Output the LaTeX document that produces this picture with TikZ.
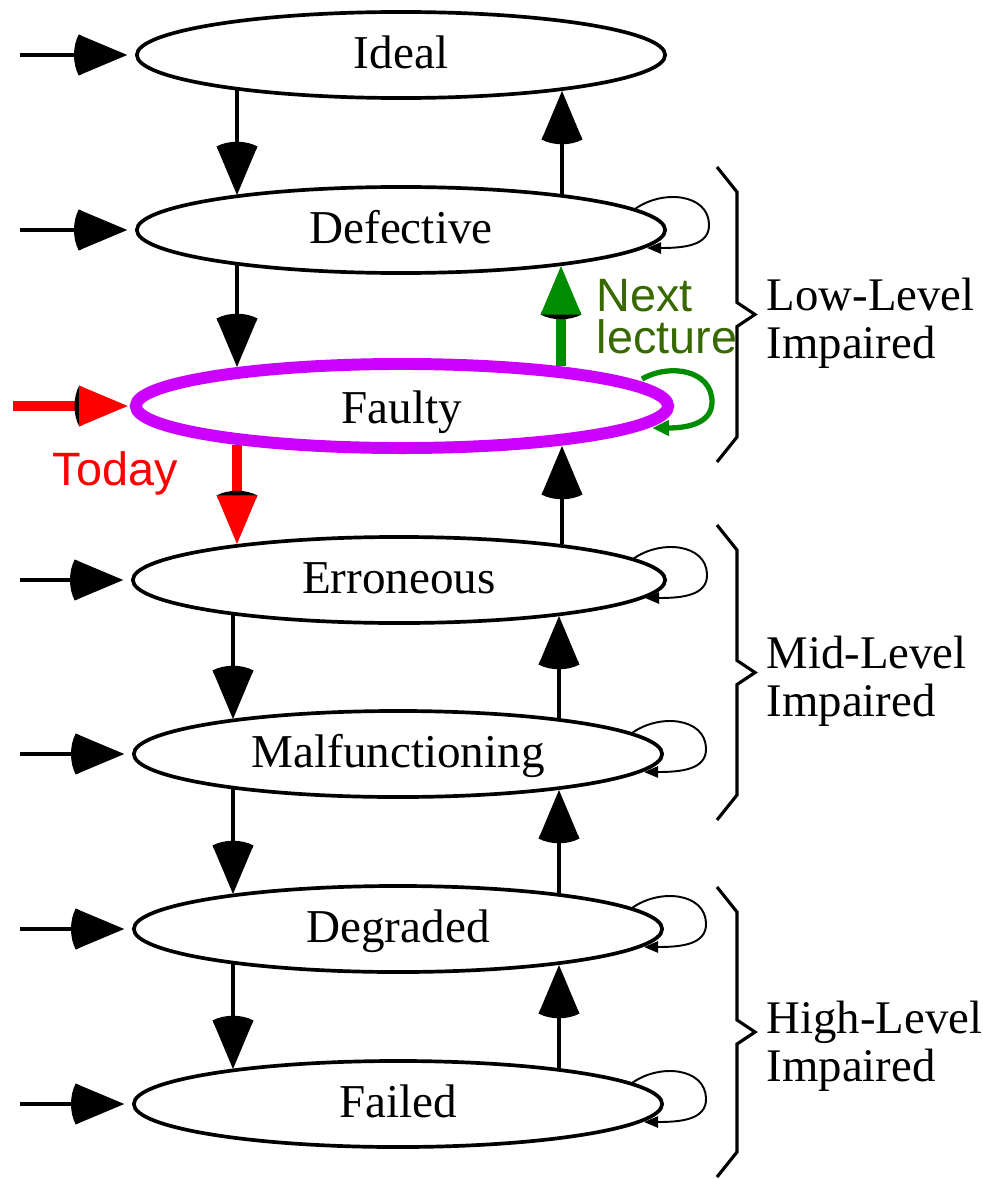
\documentclass[tikz,border=0pt]{standalone}
\usepackage{fontspec}
\setmainfont{Liberation Serif}
\newfontfamily\notesans{Liberation Sans}
\usetikzlibrary{arrows.meta,calc,shapes.geometric}

% Broad arrow head: a filled triangle over a rounded black cap on its back
\pgfdeclarearrow{
  name = Cup,
  defaults = {length = 13.8pt, width = 11.6pt},
  setup code = {
    \pgfarrowssettipend{0pt}
    \pgfarrowssetlineend{-.6\pgfarrowlength}
    \pgfarrowssetbackend{-1.1\pgfarrowlength}
    \pgfarrowssavethe\pgfarrowlength
    \pgfarrowssavethe\pgfarrowwidth
  },
  parameters = {\the\pgfarrowlength,\the\pgfarrowwidth},
  drawing code = {
    \pgfscope
      \pgfsetfillcolor{black}
      \pgfpathmoveto{\pgfqpoint{-\pgfarrowlength}{.5\pgfarrowwidth}}
      \pgfpathcurveto{\pgfqpoint{-1.13\pgfarrowlength}{.22\pgfarrowwidth}}{\pgfqpoint{-1.13\pgfarrowlength}{-.22\pgfarrowwidth}}{\pgfqpoint{-\pgfarrowlength}{-.5\pgfarrowwidth}}
      \pgfpathlineto{\pgfqpoint{-.92\pgfarrowlength}{-.46\pgfarrowwidth}}
      \pgfpathlineto{\pgfqpoint{-.92\pgfarrowlength}{.46\pgfarrowwidth}}
      \pgfpathclose
      \pgfusepathqfill
    \endpgfscope
    \pgfpathmoveto{\pgfqpoint{0pt}{0pt}}
    \pgfpathlineto{\pgfqpoint{-\pgfarrowlength}{.5\pgfarrowwidth}}
    \pgfpathlineto{\pgfqpoint{-\pgfarrowlength}{-.5\pgfarrowwidth}}
    \pgfpathclose
    \pgfusepathqfill
  }
}

\definecolor{statemagenta}{RGB}{204,0,255}
\definecolor{flowgreen}{RGB}{0,140,0}
\definecolor{notegreen}{RGB}{56,104,0}

\newcommand\statefont{\fontsize{13.4}{16}\selectfont}
\newcommand\grouplabelfont{\fontsize{13.3}{13.66}\selectfont}
\newcommand\notefont{\notesans\fontsize{13.3}{11.95}\selectfont}

% small self-loop on the right end of a state
\newcommand\selfloopat[1]{%
  \draw[selfloop] ($(#1)+(234,-21)$) .. controls +(28,-20) and +(-1,-30) ..
    ($(#1)+(308,-6)$) .. controls +(1,22) and +(36,0) .. ($(#1)+(246,18)$);}

% bracket grouping states: top y, bottom y, tip y
\newcommand\bracketat[3]{%
  \draw[bracket] (717,#1) -- (737,#1+25) -- (737,#3-12) -- (755,#3)
    -- (737,#3+12) -- (737,#2-25) -- (717,#2);}

\begin{document}
\begin{tikzpicture}[x=0.01cm,y=-0.01cm,
  state/.style={ellipse, draw, line width=1.05pt, fill=white, inner sep=0pt,
    minimum width=5.28cm, minimum height=0.86cm,
    text height=9.6pt, text depth=1.9pt, font=\statefont},
  flow/.style={line width=1pt, -Cup},
  entry/.style={line width=1pt, -Cup, shorten >=2.2pt},
  selfloop/.style={line width=0.55pt, -{Triangle[length=4pt,width=3.2pt]}},
  bracket/.style={line width=0.9pt},
  grouplabel/.style={anchor=west, inner sep=0pt, align=left, font=\grouplabelfont},
  note/.style={inner sep=0pt, align=left, font=\notefont}]

\useasboundingbox (0,0) rectangle (983,1179);

% states
\node[state] (ideal) at (401,55) {Ideal};
\node[state] (defective) at (401,230) {Defective};
\node[state, draw=statemagenta, line width=3.4pt, minimum width=5.32cm,
  minimum height=0.84cm, text height=10.6pt, text depth=0.9pt] (faulty) at (402,406) {Faulty};
\node[state, minimum width=5.32cm] (erroneous) at (399,580) {Erroneous};
\node[state] (malfunctioning) at (398,754) {Malfunctioning};
\node[state] (degraded) at (398,929) {Degraded};
\node[state] (failed) at (398,1104) {Failed};

% initial arrows
\foreach \n/\y in {ideal/55, defective/230, erroneous/580,
                   malfunctioning/754, degraded/929, failed/1104} {
  \coordinate (src-\n) at (20,\y);
  \draw[entry] (src-\n) -- (\n);
}
\coordinate (src-faulty) at (13,406);
\draw[red, line width=2.6pt, -Cup, shorten >=0.6pt] (src-faulty) -- (faulty);

% downward transitions
\draw[flow] ($(ideal)+(-164,35)$) -- ($(defective)+(-164,-35)$);
\draw[flow] ($(defective)+(-164,35)$) -- ($(faulty)+(-165,-39)$);
\draw[flow, red, line width=2.6pt] ($(faulty)+(-165,39)$) -- ($(erroneous)+(-162,-36)$);
\draw[flow] ($(erroneous)+(-166,35)$) -- ($(malfunctioning)+(-165,-35)$);
\draw[flow] ($(malfunctioning)+(-165,35)$) -- ($(degraded)+(-165,-35)$);
\draw[flow] ($(degraded)+(-165,35)$) -- ($(failed)+(-165,-35)$);

% upward transitions
\draw[flow] ($(defective)+(161,-36)$) -- ($(ideal)+(161,36)$);
\draw[flow, flowgreen, line width=2.6pt] ($(faulty)+(159,-40)$) -- ($(defective)+(160,36)$);
\draw[flow] ($(erroneous)+(163,-36)$) -- ($(faulty)+(160,40)$);
\draw[flow] ($(malfunctioning)+(161,-36)$) -- ($(erroneous)+(160,36)$);
\draw[flow] ($(degraded)+(161,-36)$) -- ($(malfunctioning)+(161,36)$);
\draw[flow] ($(failed)+(161,-36)$) -- ($(degraded)+(161,36)$);

% self-loops
\selfloopat{defective}
\selfloopat{erroneous}
\selfloopat{malfunctioning}
\selfloopat{degraded}
\selfloopat{failed}
\draw[flowgreen, line width=1.5pt, -{Triangle[length=4.8pt,width=4.2pt]}]
  ($(faulty)+(240,-27)$) .. controls +(28,-16) and +(0,-32) ..
  ($(faulty)+(310,-4)$) .. controls +(0,22) and +(34,0) .. ($(faulty)+(250,22)$);

% notes
\node[note, red, anchor=base west] (today) at (52,485) {Today};
\node[note, notegreen, anchor=west] (nextlecture) at (596,317) {Next\\lecture};

% groups
\bracketat{167}{462}{314.5}
\bracketat{525}{820}{672.5}
\bracketat{887}{1177}{1032}
\node[grouplabel] (lowlevel) at (766,323) {Low-Level\\Impaired};
\node[grouplabel] (midlevel) at (766,681) {Mid-Level\\Impaired};
\node[grouplabel] (highlevel) at (766,1046) {High-Level\\Impaired};
\end{tikzpicture}
\end{document}
